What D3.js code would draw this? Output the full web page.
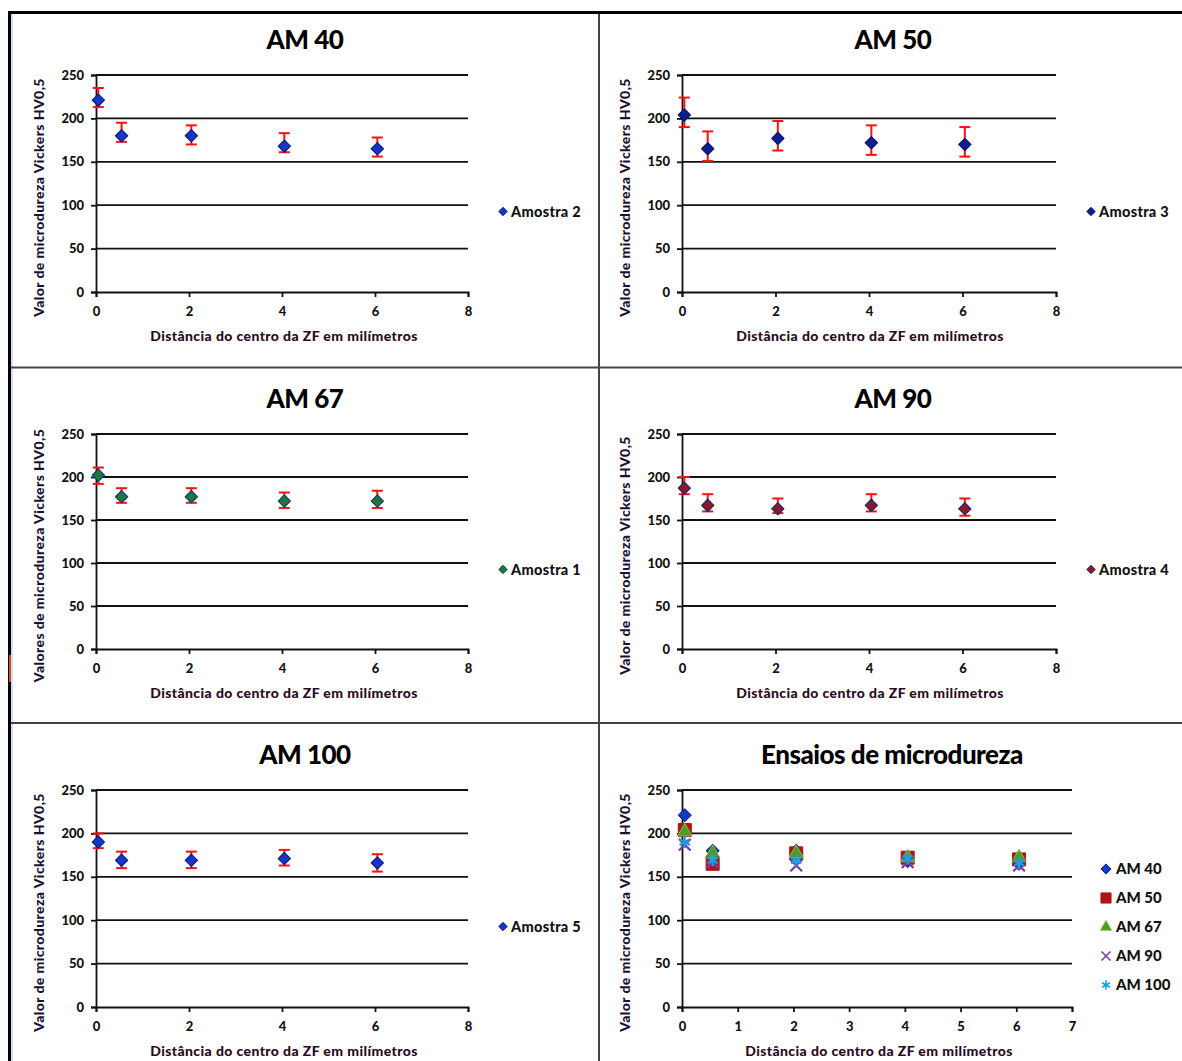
<!DOCTYPE html>
<meta charset="utf-8">
<style>
html, body { margin: 0; padding: 0; background: #fff; }
svg text { font-family: Lato, "Open Sans", sans-serif; }
</style>
<body>
<script src="https://d3js.org/d3.v7.min.js"></script>
<script>

// dados
var distancias = [0.05, 0.55, 2.05, 4.05, 6.05];

var am40 = [221, 180, 180, 168, 165];
var am40Mais = [14, 15, 12, 15, 13];
var am40Menos = [8, 7, 10, 7, 9];

var am50 = [204, 165, 177, 172, 170];
var am50Mais = [20, 20, 20, 20, 20];
var am50Menos = [14, 14, 14, 14, 14];

var am67 = [202, 177, 177, 172, 172];
var am67Mais = [9, 10, 10, 10, 12];
var am67Menos = [10, 7, 7, 8, 8];

var am90 = [187, 167, 163, 167, 163];
var am90Mais = [13, 13, 12, 13, 12];
var am90Menos = [7, 7, 5, 7, 8];

var am100 = [190, 169, 169, 171, 166];
var am100Mais = [10, 10, 10, 10, 10];
var am100Menos = [7, 9, 9, 8, 10];

var yTicks = [0, 50, 100, 150, 200, 250];
var xTicks8 = [0, 2, 4, 6, 8];
var xTicks7 = [0, 1, 2, 3, 4, 5, 6, 7];

var tituloX = "Distância do centro da ZF em milímetros";
var tituloY = "Valor de microdureza Vickers HV0,5";
var tituloY2 = "Valores de microdureza Vickers HV0,5";

var width = 1182, height = 1061;

var svg = d3.select("body").append("svg")
    .attr("width", width)
    .attr("height", height);

// molduras
var frame = svg.append("g").attr("class", "frame");
frame.append("line").attr("x1", 8).attr("x2", width).attr("y1", 12.5).attr("y2", 12.5)
    .attr("stroke", "#000").attr("stroke-width", 3);
frame.append("line").attr("x1", 9.5).attr("x2", 9.5).attr("y1", 11).attr("y2", height)
    .attr("stroke", "#000").attr("stroke-width", 3);
frame.append("line").attr("x1", 12).attr("x2", 12).attr("y1", 14).attr("y2", height)
    .attr("stroke", "#9fc3ea").attr("stroke-width", 1);
frame.append("line").attr("x1", 599).attr("x2", 599).attr("y1", 14).attr("y2", height)
    .attr("stroke", "#444").attr("stroke-width", 2);
[367.5, 723].forEach(function(y) {
  frame.append("line").attr("x1", 11).attr("x2", width).attr("y1", y).attr("y2", y)
      .attr("stroke", "#444").attr("stroke-width", 2);
});
frame.append("line").attr("x1", 10).attr("x2", 10).attr("y1", 655).attr("y2", 682)
    .attr("stroke", "#e8401c").attr("stroke-width", 2);

var paineis = [
  {titulo: "AM 40", y: am40, mais: am40Mais, menos: am40Menos, nome: "Amostra 2", fill: "#1636c4", stroke: "#0b1f8a",
   x0: 96, x1: 468, yTop: 75, yBot: 292, cx: 305, tituloY: tituloY},
  {titulo: "AM 50", y: am50, mais: am50Mais, menos: am50Menos, nome: "Amostra 3", fill: "#0d1f8f", stroke: "#0a1670",
   x0: 682, x1: 1056, yTop: 75, yBot: 292, cx: 893, tituloY: tituloY},
  {titulo: "AM 67", y: am67, mais: am67Mais, menos: am67Menos, nome: "Amostra 1", fill: "#1d7a35", stroke: "#163a78",
   x0: 96, x1: 468, yTop: 434, yBot: 649, cx: 305, tituloY: tituloY2},
  {titulo: "AM 90", y: am90, mais: am90Mais, menos: am90Menos, nome: "Amostra 4", fill: "#8c1a22", stroke: "#1a2580",
   x0: 682, x1: 1056, yTop: 434, yBot: 649, cx: 893, tituloY: tituloY},
  {titulo: "AM 100", y: am100, mais: am100Mais, menos: am100Menos, nome: "Amostra 5", fill: "#1636c4", stroke: "#0b1f8a",
   x0: 96, x1: 468, yTop: 790, yBot: 1007, cx: 305, tituloY: tituloY}
];

function eixos(g, p, xMax, xTicks) {
  var x = d3.scaleLinear().domain([0, xMax]).range([p.x0, p.x1]);
  var y = d3.scaleLinear().domain([0, 250]).range([p.yBot, p.yTop]);

  // grade
  g.append("g").selectAll("line").data(yTicks.slice(1)).enter().append("line")
      .attr("x1", p.x0).attr("x2", p.x1)
      .attr("y1", function(d) { return y(d); }).attr("y2", function(d) { return y(d); })
      .attr("stroke", "#111").attr("stroke-width", 1.8);

  var ay = g.append("g").attr("transform", "translate(" + p.x0 + ",0)")
      .call(d3.axisLeft(y).tickValues(yTicks).tickSize(5).tickPadding(7));
  var ax = g.append("g").attr("transform", "translate(0," + p.yBot + ")")
      .call(d3.axisBottom(x).tickValues(xTicks).tickFormat(d3.format("d")).tickSize(5).tickPadding(10));
  [ax, ay].forEach(function(a) {
    a.select(".domain").attr("stroke", "#111").attr("stroke-width", 1.8);
    a.selectAll(".tick line").attr("stroke", "#111").attr("stroke-width", 1.8);
    a.selectAll("text").attr("font-size", 13).attr("font-weight", 900).attr("fill", "#111")
      .style("font-family", "Lato, sans-serif");
  });

  g.append("text").attr("x", p.cx).attr("y", p.yTop - 26)
      .attr("text-anchor", "middle").attr("font-size", 26).attr("font-weight", 900)
      .attr("letter-spacing", -0.5)
      .attr("fill", "#000").text(p.titulo);

  g.append("text").attr("class", "tx").attr("x", p.x0 + 188).attr("y", p.yBot + 49)
      .attr("text-anchor", "middle").attr("font-size", 14).attr("font-weight", 900)
      .attr("letter-spacing", 0.4)
      .attr("fill", "#2b0a24").text(tituloX);

  var ty = (p.yTop + p.yBot + 28) / 2;
  g.append("text").attr("transform", "translate(" + (p.x0 - 52) + "," + ty + ") rotate(-90)")
      .attr("text-anchor", "middle").attr("font-size", 14).attr("font-weight", 900)
      .attr("letter-spacing", 0.4)
      .attr("fill", "#1a1030").text(p.tituloY);

  return {x: x, y: y};
}

var diamante = d3.symbol().type(d3.symbolDiamond2).size(95);

paineis.forEach(function(p) {
  var g = svg.append("g").attr("class", "painel");
  var s = eixos(g, p, 8, xTicks8);
  var pts = distancias.map(function(d, i) {
    return {x: d, y: p.y[i], hi: p.y[i] + p.mais[i], lo: p.y[i] - p.menos[i]};
  });

  var barras = g.append("g").selectAll("g").data(pts).enter().append("g");
  barras.append("line")
      .attr("x1", function(d) { return s.x(d.x); }).attr("x2", function(d) { return s.x(d.x); })
      .attr("y1", function(d) { return s.y(d.hi); }).attr("y2", function(d) { return s.y(d.lo); })
      .attr("stroke", "#ff1010").attr("stroke-width", 2);
  ["hi", "lo"].forEach(function(k) {
    barras.append("line")
        .attr("x1", function(d) { return s.x(d.x) - 5.5; }).attr("x2", function(d) { return s.x(d.x) + 5.5; })
        .attr("y1", function(d) { return s.y(d[k]); }).attr("y2", function(d) { return s.y(d[k]); })
        .attr("stroke", "#ff1010").attr("stroke-width", 2);
  });

  g.append("g").selectAll("path").data(pts).enter().append("path")
      .attr("transform", function(d) { return "translate(" + s.x(d.x) + "," + s.y(d.y) + ")"; })
      .attr("d", diamante)
      .attr("fill", p.fill).attr("stroke", p.stroke).attr("stroke-width", 1.2)
      .attr("stroke-linejoin", "round");

  var ly = (p.yTop + p.yBot) / 2 + 28;
  var lx = p.x1 + 35;
  g.append("path").attr("transform", "translate(" + lx + "," + ly + ")")
      .attr("d", d3.symbol().type(d3.symbolDiamond2).size(45))
      .attr("fill", p.fill).attr("stroke", p.stroke);
  g.append("text").attr("x", lx + 8).attr("y", ly + 5).attr("font-size", 14.5)
      .attr("font-weight", 900).attr("letter-spacing", 0.3).attr("fill", "#111").text(p.nome);
});

// grafico combinado
var comb = {titulo: "Ensaios de microdureza", x0: 682, x1: 1072, yTop: 790, yBot: 1007, cx: 892, tituloY: tituloY};
var gc = svg.append("g").attr("class", "combinado");
var sc = eixos(gc, comb, 7, xTicks7);
gc.select("text.tx").attr("x", 879);

var series = [
  {nome: "AM 40", y: am40, tipo: d3.symbolDiamond2, size: 110, fill: "#1636c4", stroke: "#0b1f8a"},
  {nome: "AM 50", y: am50, tipo: d3.symbolSquare, size: 170, fill: "#b01414", stroke: "#b01414"},
  {nome: "AM 67", y: am67, tipo: d3.symbolTriangle, size: 90, fill: "#4f9a2a", stroke: "#7cc242"},
  {nome: "AM 90", y: am90, tipo: d3.symbolX, size: 90, fill: "none", stroke: "#7a3aa8"},
  {nome: "AM 100", y: am100, tipo: d3.symbolAsterisk, size: 100, fill: "none", stroke: "#1aa0e0"}
];

series.forEach(function(se, k) {
  gc.append("g").selectAll("path").data(distancias).enter().append("path")
      .attr("transform", function(d, i) { return "translate(" + sc.x(d) + "," + sc.y(se.y[i]) + ")"; })
      .attr("d", d3.symbol().type(se.tipo).size(se.size))
      .attr("fill", se.fill).attr("stroke", se.stroke)
      .attr("stroke-width", se.fill === "none" ? 2.2 : 1);

  var ly = 869 + k * 29;
  gc.append("path").attr("transform", "translate(1106," + ly + ")")
      .attr("d", d3.symbol().type(se.tipo).size(se.size * 0.6))
      .attr("fill", se.fill).attr("stroke", se.stroke)
      .attr("stroke-width", se.fill === "none" ? 1.6 : 1);
  gc.append("text").attr("x", 1116).attr("y", ly + 5).attr("font-size", 15)
      .attr("font-weight", 900).attr("fill", "#111").text(se.nome);
});

</script>
</body>
